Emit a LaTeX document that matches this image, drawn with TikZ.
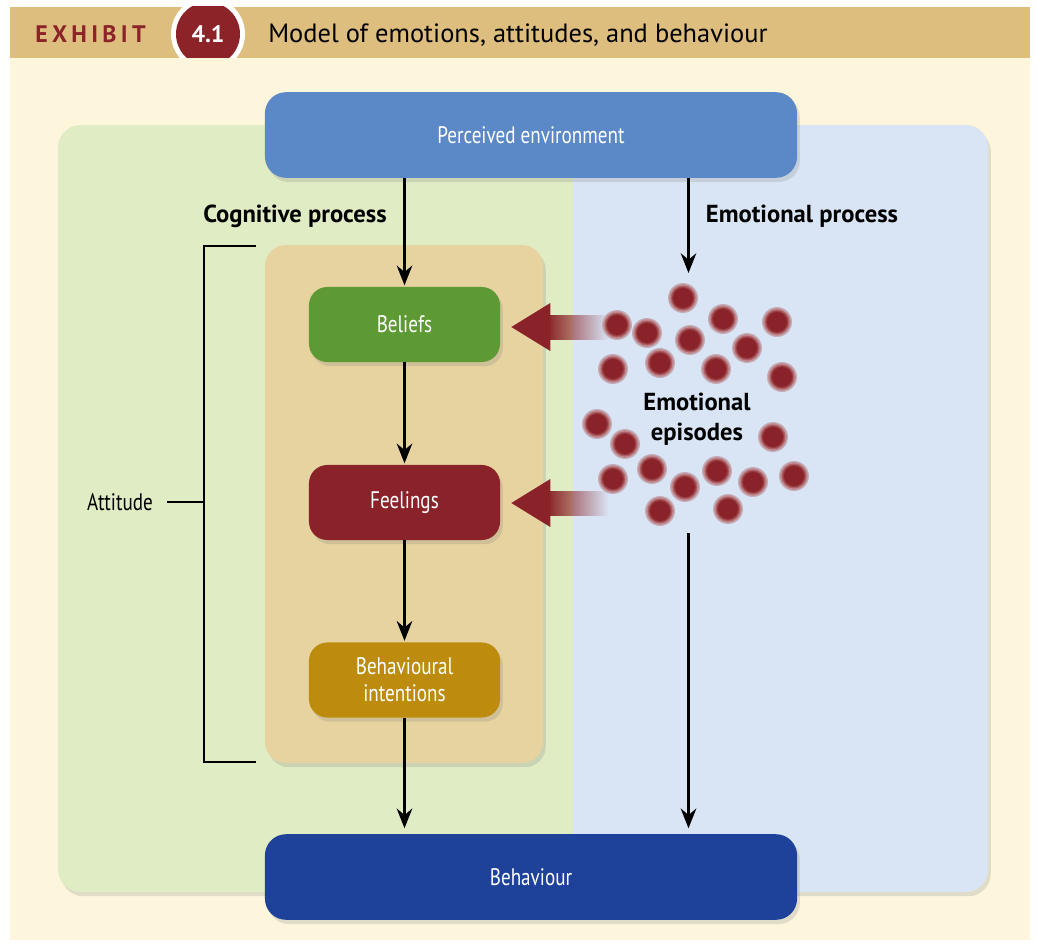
\documentclass[tikz,border=0pt]{standalone}
\usepackage{fontspec}
\setmainfont{PT Sans}
\newfontfamily\narrowfont[FakeStretch=0.8]{PT Sans}
\usetikzlibrary{arrows.meta,fadings,shadows,positioning,calc}

\definecolor{headtan}{RGB}{222,190,126}
\definecolor{cream}{RGB}{253,246,221}
\definecolor{exhibitred}{RGB}{139,35,40}
\definecolor{panelgreen}{RGB}{224,236,196}
\definecolor{panelblue}{RGB}{217,229,245}
\definecolor{envblue}{RGB}{91,137,199}
\definecolor{attitudetan}{RGB}{231,211,160}
\definecolor{beliefgreen}{RGB}{94,154,51}
\definecolor{feelred}{RGB}{138,35,41}
\definecolor{intentgold}{RGB}{189,139,14}
\definecolor{behavblue}{RGB}{30,65,154}

\begin{document}
\begin{tikzpicture}[x=0.025cm,y=-0.025cm,
  softshadow/.style={drop shadow={shadow xshift=2pt,shadow yshift=-3pt,opacity=0.22}},
  box/.style={rounded corners=13pt,text=white,align=center,softshadow,
    font=\narrowfont\fontsize{17}{19}\selectfont},
  stepbox/.style={box,minimum width=4.775cm,minimum height=1.875cm},
  widebox/.style={box,rounded corners=15pt,minimum width=13.3cm,minimum height=2.14cm},
  flow/.style={line width=2pt,-{Stealth[length=14pt,width=11pt]}},
  bracket/.style={line width=1.4pt},
  heading/.style={font=\bfseries\fontsize{17.5}{21}\selectfont}]

\useasboundingbox[fill=white] (0,0) rectangle (1038,946);

% header band
\fill[cream] (10,58) rectangle (1030,940);
\fill[headtan] (10,7) rectangle (1030,58);
\begin{scope}
\clip (10,7) rectangle (1030,58);
\fill[white] (208,34) circle (37);
\fill[exhibitred] (208,34) circle (32);
\end{scope}
\node[anchor=base west,inner sep=0pt,text=exhibitred,
  font=\bfseries\fontsize{17}{20}\selectfont\addfontfeature{LetterSpace=18}] (exhibit) at (35,43) {EXHIBIT};
\node[anchor=base,inner sep=0pt,text=white,font=\bfseries\fontsize{17}{20}\selectfont] (number) at (208,43) {4.1};
\node[anchor=base west,inner sep=0pt,font=\fontsize{18.8}{21}\selectfont] (title) at (268,43) {Model of emotions, attitudes, and behaviour};

% two process panels
\fill[panelgreen,rounded corners=16pt,softshadow] (58,125) rectangle (988,892);
\begin{scope}
\clip (573,100) rectangle (1000,900);
\fill[panelblue,rounded corners=16pt] (58,125) rectangle (988,892);
\end{scope}
\fill[attitudetan,rounded corners=15pt,softshadow] (265,245) rectangle (543,763);

\node[widebox,fill=envblue] (env) at (531,135) {Perceived environment};
\node[stepbox,fill=beliefgreen] (beliefs) at (404.5,324.5) {Beliefs};
\node[stepbox,fill=feelred] (feelings) at (404.5,502.5) {Feelings};
\node[stepbox,fill=intentgold] (intentions) at (404.5,680) {Behavioural\\intentions};
\node[widebox,fill=behavblue] (behaviour) at (531,877) {Behaviour};

\node[heading] (cognitive) at (295,216) {Cognitive process};
\node[heading] (emotional) at (802,216) {Emotional process};
\node[heading,align=center] (episodes) at (697,419) {Emotional\\episodes};

% attitude bracket
\node[font=\narrowfont\fontsize{17}{19}\selectfont,inner xsep=10pt] (attitude) at (120,502) {Attitude};
\coordinate (brTop) at (256,246);
\coordinate (brTopC) at (204,246);
\coordinate (brBotC) at (204,762);
\coordinate (brBot) at (256,762);
\draw[bracket] (brTop) -- (brTopC) -- (brBotC) -- (brBot);
\draw[bracket] (attitude) -- (attitude -| brTopC);

% cognitive route
\draw[flow,shorten >=1pt] (env.south -| beliefs) -- (beliefs);
\draw[flow,shorten >=1pt] (beliefs) -- (feelings);
\draw[flow,shorten >=1pt] (feelings) -- (intentions);
\draw[flow,shorten >=4pt] (intentions) -- (behaviour.north -| intentions);

% emotional route
\coordinate (emoIn) at (688.5,273);
\coordinate (emoOut) at (688.5,533);
\draw[flow] (env.south -| emoIn) -- (emoIn);
\draw[flow,shorten >=4pt] (emoOut) -- (behaviour.north -| emoOut);

% episodes push on beliefs and feelings
\coordinate (pushB) at ($(beliefs.east)+(100,2.5)$);
\coordinate (pushF) at ($(feelings.east)+(100,0.5)$);
\foreach \p in {pushB,pushF}{
  \fill[feelred,path fading=east] ($(\p)+(-53,-12.5)$) rectangle ($(\p)+(8,12.5)$);
  \fill[feelred] ($(\p)+(-50,-24)$) -- ($(\p)+(-89,0)$) -- ($(\p)+(-50,24)$) -- cycle;
}

% soft-edged episode dots
\foreach \x/\y in {683/298,617/325,647/333,690/340,723/319,777/322,747/348,
  613/369,660/363,716/369,782/377,597/424,625/444,773/437,613/479,652/469,
  685/487,717/471,753/482,794/476,660/511,728/509}{
  \fill[feelred!28!panelblue] (\x,\y) circle (15);
  \fill[feelred!52!white] (\x,\y) circle (13.8);
  \fill[feelred!72!white] (\x,\y) circle (12.5);
  \fill[feelred!88!white] (\x,\y) circle (11.2);
  \fill[feelred] (\x,\y) circle (10);
}

\end{tikzpicture}
\end{document}
